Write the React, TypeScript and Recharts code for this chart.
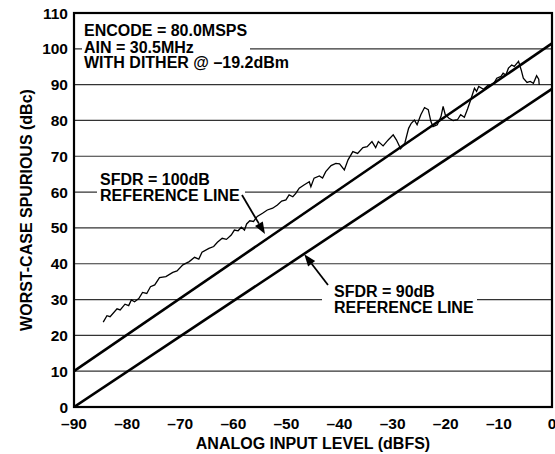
import React from 'react';
import { LineChart, Line, XAxis, YAxis, CartesianGrid, Label } from 'recharts';

// worst-case spurious vs analog input level
const inputLevel = [
  -84.5, -83.8, -83.2, -81.9, -81.3, -80.4, -79.7, -79.2, -78.6, -77.8,
  -77.1, -76.3, -75.6, -74.8, -73.9, -72.7, -71.4, -70.6, -69.5, -68.3,
  -67.3, -66.5, -65.9, -64.6, -63.7, -63.0, -62.1, -61.3, -60.4, -59.8,
  -59.1, -58.5, -57.9, -57.5, -56.9, -56.2, -55.5, -54.5, -53.6, -52.6,
  -51.7, -50.9, -50.1, -49.5, -48.8, -48.2, -47.6, -46.7, -45.7, -45.4,
  -44.8, -43.8, -43.2, -42.6, -41.6, -40.7, -40.0, -39.1, -38.4, -37.5,
  -36.6, -35.6, -34.8, -33.9, -33.2, -32.7, -31.8, -31.0, -30.8, -29.9,
  -29.3, -28.5, -27.7, -27.0, -26.5, -25.9, -25.4, -24.7, -24.0, -23.3,
  -22.8, -22.4, -21.6, -20.9, -20.5, -20.1, -19.4, -18.6, -17.8, -17.2,
  -16.5, -15.9, -15.3, -14.6, -14.2, -13.8, -12.9, -12.0, -11.0, -10.4,
  -9.6, -9.2, -8.7, -8.2, -7.6, -7.1, -6.3, -5.8, -5.4, -4.7,
  -4.1, -3.5, -2.9, -2.5, -2.4,
];
const spurious = [
  23.7, 25.5, 25.2, 27.4, 27.1, 28.7, 28.3, 29.9, 29.4, 30.3,
  32.0, 31.7, 33.6, 34.1, 36.1, 36.4, 37.6, 38.0, 39.7, 40.6,
  41.8, 41.3, 43.2, 44.3, 44.8, 46.0, 47.1, 46.8, 48.0, 49.4,
  49.2, 50.2, 49.4, 51.1, 52.0, 51.8, 53.2, 54.1, 55.0, 55.5,
  56.4, 57.5, 57.8, 59.2, 58.7, 59.7, 61.1, 62.0, 62.9, 61.5,
  63.9, 64.5, 63.9, 65.7, 67.4, 68.0, 67.9, 66.2, 69.0, 71.3,
  70.8, 72.4, 72.7, 74.1, 72.4, 74.1, 72.9, 74.3, 74.6, 76.0,
  74.6, 72.1, 73.7, 77.8, 79.2, 80.1, 78.8, 81.6, 83.6, 83.0,
  79.7, 78.3, 78.8, 81.1, 83.9, 81.6, 80.6, 80.0, 80.2, 81.6,
  80.9, 83.2, 85.8, 89.0, 88.1, 89.5, 88.7, 89.9, 90.2, 91.8,
  92.3, 93.2, 92.7, 94.6, 95.5, 95.1, 96.5, 94.1, 91.8, 90.6,
  90.9, 90.4, 92.5, 91.5, 89.9,
];

// reference lines (end points)
const refLevel = [-90, 0];
const sfdr100 = [10, 101.5];
const sfdr90 = [0, 88.8];

const xTicks = [-90, -80, -70, -60, -50, -40, -30, -20, -10, 0];
const yTicks = [0, 10, 20, 30, 40, 50, 60, 70, 80, 90, 100, 110];

const spurData = inputLevel.map((x, i) => ({ x, y: spurious[i] }));
const ref100Data = refLevel.map((x, i) => ({ x, y: sfdr100[i] }));
const ref90Data = refLevel.map((x, i) => ({ x, y: sfdr90[i] }));

const font = '"Liberation Sans", Arial, Helvetica, sans-serif';
const W = 547;
const H = 446;

const fmtX = (v: number) => (v < 0 ? '\u2013' + Math.abs(v) : String(v));

// simple arrow with a filled head at (x2, y2)
const Arrow = ({ x1, y1, x2, y2 }: { x1: number; y1: number; x2: number; y2: number }) => {
  const dx = x2 - x1;
  const dy = y2 - y1;
  const len = Math.sqrt(dx * dx + dy * dy);
  const ux = dx / len;
  const uy = dy / len;
  const hl = 12;
  const hw = 4.5;
  const bx = x2 - ux * hl;
  const by = y2 - uy * hl;
  return (
    <g>
      <line x1={x1} y1={y1} x2={bx} y2={by} stroke="#000" strokeWidth={1.8} />
      <polygon
        points={`${x2},${y2} ${bx - uy * hw},${by + ux * hw} ${bx + uy * hw},${by - ux * hw}`}
        fill="#000"
      />
    </g>
  );
};

const textStyle = { fontFamily: font, fontWeight: 700, fontSize: 16, fill: '#000' };

export default function App() {
  return (
    // body margin moved into padding so the chart can use the full 555px width
    <div style={{ width: 555, height: 454, padding: '6px 0 0 8px', boxSizing: 'border-box' }}>
      <style>{'body{margin:0}'}</style>
      <div style={{ position: 'relative', width: W, height: H + 2, overflow: 'hidden' }}>
        <LineChart width={W + 15} height={H + 2} margin={{ top: 7, right: 18, bottom: 0, left: 0 }}>
          <CartesianGrid vertical={false} stroke="#333" strokeWidth={1.2} />
          <XAxis
            dataKey="x"
            type="number"
            domain={[-90, 0]}
            ticks={xTicks}
            interval={0}
            tickFormatter={fmtX}
            height={47}
            axisLine={false}
            tickLine={false}
            tickSize={6}
            tickMargin={5}
            allowDataOverflow
            tick={{ fontFamily: font, fontWeight: 700, fontSize: 15.5, fill: '#000' }}
          >
            <Label
              value="ANALOG INPUT LEVEL (dBFS)"
              position="insideBottom"
              offset={5}
              style={{ fontFamily: font, fontWeight: 700, fontSize: 16, fill: '#000' }}
            />
          </XAxis>
          <YAxis
            type="number"
            domain={[0, 110]}
            ticks={yTicks}
            interval={0}
            width={66}
            axisLine={false}
            tickLine={false}
            tickSize={4}
            tickMargin={2}
            allowDataOverflow
            tick={{ fontFamily: font, fontWeight: 700, fontSize: 15.5, fill: '#000' }}
          >
            <Label
              value="WORST-CASE SPURIOUS (dBc)"
              angle={-90}
              position="insideLeft"
              offset={18}
              style={{ fontFamily: font, fontWeight: 700, fontSize: 16, fill: '#000', textAnchor: 'middle' }}
            />
          </YAxis>
          <Line
            data={ref100Data}
            dataKey="y"
            stroke="#000"
            strokeWidth={2.6}
            dot={false}
            isAnimationActive={false}
          />
          <Line
            data={ref90Data}
            dataKey="y"
            stroke="#000"
            strokeWidth={2.6}
            dot={false}
            isAnimationActive={false}
          />
          <Line
            data={spurData}
            dataKey="y"
            type="linear"
            stroke="#000"
            strokeWidth={1.3}
            dot={false}
            isAnimationActive={false}
          />
        </LineChart>

        {/* frame + annotations */}
        <svg
          width={W}
          height={H}
          style={{ position: 'absolute', left: 0, top: 2, pointerEvents: 'none' }}
        >
          <rect x={66} y={5} width={478} height={394} fill="none" stroke="#000" strokeWidth={2.2} />

          <rect x={74} y={37} width={168} height={8} fill="#fff" />
          <text x={76} y={28} style={textStyle}>ENCODE = 80.0MSPS</text>
          <text x={76} y={44.5} style={textStyle}>AIN = 30.5MHz</text>
          <text x={76} y={60} style={textStyle}>WITH DITHER @ {'\u2013'}19.2dBm</text>

          <rect x={89} y={180} width={148} height={8} fill="#fff" />
          <text x={92} y={177} style={textStyle}>SFDR = 100dB</text>
          <text x={92} y={193} style={textStyle}>REFERENCE LINE</text>
          <Arrow x1={234} y1={187} x2={257} y2={226} />

          <rect x={314} y={287} width={155} height={8} fill="#fff" />
          <text x={326} y={288.7} style={textStyle}>SFDR = 90dB</text>
          <text x={326} y={304.7} style={textStyle}>REFERENCE LINE</text>
          <Arrow x1={320} y1={277} x2={296.3} y2={246.3} />
        </svg>
      </div>
    </div>
  );
}
